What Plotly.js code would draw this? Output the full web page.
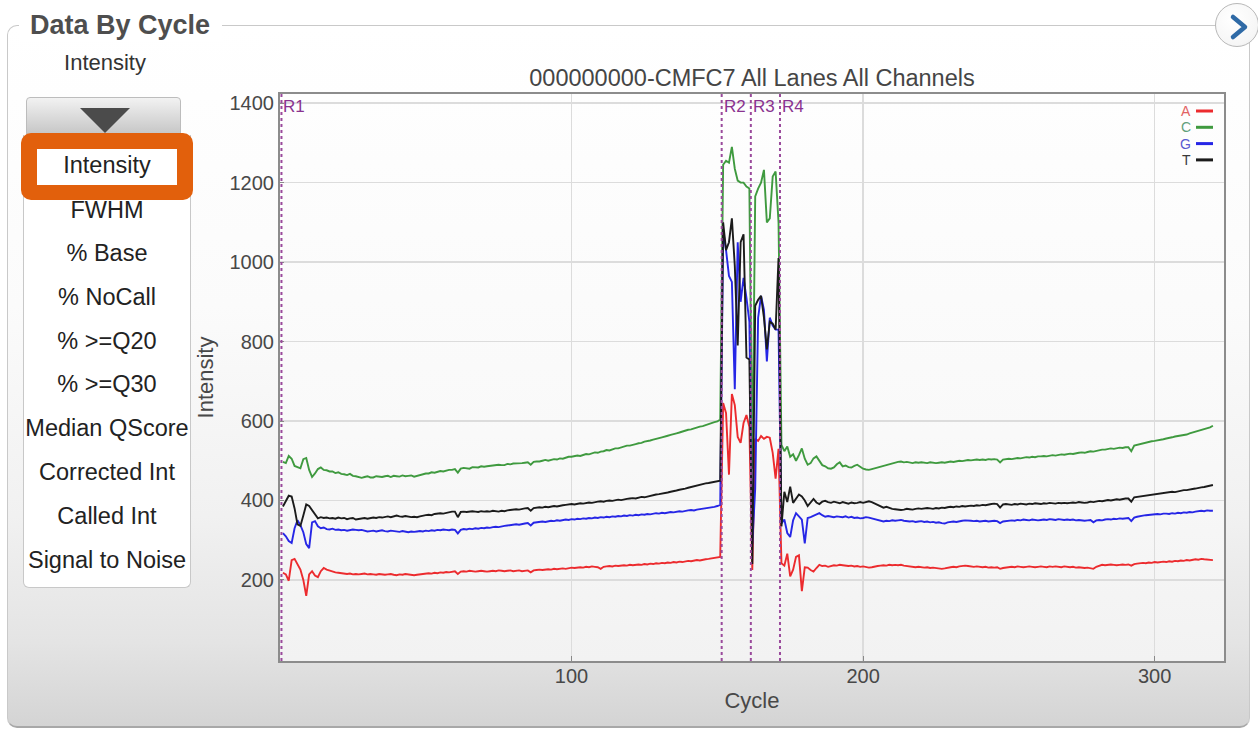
<!DOCTYPE html>
<html>
<head>
<meta charset="utf-8">
<script src="https://cdn.plot.ly/plotly-3.0.1.min.js"></script>
<style>
html,body{margin:0;padding:0;width:1258px;height:730px;overflow:hidden;background:#ffffff;font-family:"Liberation Sans",Arial,sans-serif;}
#panel{position:absolute;left:7px;top:25px;width:1241px;height:700px;border:1.5px solid #c9c9c9;border-bottom:2px solid #a8a8a8;border-radius:10px;
 background:linear-gradient(to bottom,#ffffff 0%,#fbfbfb 40%,#f1f1f1 70%,#e4e4e4 88%,#d4d4d4 100%);}
#ptitle{position:absolute;left:11px;top:-18px;padding:0 12px 0 11px;background:#ffffff;font-weight:bold;font-size:27px;line-height:34px;color:#4e4e4e;}
#plotbg{position:absolute;left:280px;top:94px;width:944px;height:567px;background:linear-gradient(to bottom,#fefefe 0%,#f9f9f9 60%,#f2f2f2 100%);}
#chart{position:absolute;left:0;top:0;width:1258px;height:730px;}
.ui{position:absolute;}
#lbl{left:25px;width:160px;top:50px;text-align:center;font-size:22px;line-height:26px;color:#333;}
#btn{left:26px;top:97px;width:155px;height:38px;background:linear-gradient(to bottom,#f2f2f2,#c6c6c6);border:1px solid #bcbcbc;border-radius:4px 4px 0 0;box-sizing:border-box;}
#tri{left:80px;top:108px;width:0;height:0;border-left:25px solid transparent;border-right:25px solid transparent;border-top:25px solid #4b4b4b;}
#menu{left:23px;top:135px;width:168px;height:453px;background:#ffffff;border:1px solid #c8c8c8;border-top:none;border-radius:0 0 6px 6px;box-sizing:border-box;}
.item{position:absolute;left:23px;width:168px;text-align:center;font-size:23.5px;line-height:26px;color:#222;}
#orange{left:21px;top:133px;width:172px;height:67px;background:#e2600c;border-radius:10px;}
#owhite{left:37px;top:149px;width:140px;height:36px;background:#ffffff;}
#circle{left:1215px;top:3px;width:44px;height:44px;border-radius:50%;border:1.5px solid #b8b8b8;box-sizing:border-box;background:radial-gradient(circle at 40% 35%,#ffffff 0%,#f6f6f6 70%,#e8e8e8 100%);}
#chev{left:1215px;top:3px;}
</style>
</head>
<body>
<div id="panel"><div id="ptitle">Data By Cycle</div></div>
<div id="plotbg"></div>
<div id="chart"></div>
<div class="ui" id="lbl">Intensity</div>
<div class="ui" id="btn"></div>
<div class="ui" id="tri"></div>
<div class="ui" id="menu"></div>
<div id="items"></div>
<div class="ui" id="orange"></div>
<div class="ui" id="owhite"></div>
<div class="item" style="top:152px;">Intensity</div>
<div class="ui" id="circle"></div>
<svg class="ui" id="chev" width="44" height="44"><polyline points="18,14 30,24 18,34" fill="none" stroke="#2f6aa6" stroke-width="4.5" stroke-linecap="round" stroke-linejoin="round"/></svg>
<script>
// ---- menu entries ----
const menuItems = ["Intensity","FWHM","% Base","% NoCall","% >=Q20","% >=Q30","Median QScore","Corrected Int","Called Int","Signal to Noise"];

// ---- read boundaries ----
const readStarts = [1, 152, 162, 172];
const readLabels = ["R1", "R2", "R3", "R4"];

// ---- channel names ----
const channels = ["A", "C", "G", "T"];

// ---- intensity per cycle (cycles 1..320) ----
const intensityA = [
 218,214,198,250,253,241,226,200,160,214,
 222,211,207,222,230,226,223,221,219,218,
 217,216,215,216,214,215,214,215,216,214,
 215,214,213,215,214,213,214,215,213,212,
 214,213,215,214,213,212,213,214,215,216,
 217,216,218,217,219,218,220,219,221,222,
 215,221,222,221,223,222,221,222,223,222,
 221,222,223,222,224,223,222,223,224,222,
 223,224,222,223,224,219,224,225,226,225,
 226,227,226,228,227,228,229,228,230,231,
 230,231,232,231,233,232,234,233,232,228,
 233,234,235,234,236,235,236,237,236,238,
 237,238,239,238,240,239,241,240,242,241,
 243,242,244,243,245,244,246,245,247,248,
 247,249,250,249,251,252,253,254,255,256,258,
 645,620,465,668,640,560,545,595,615,585,
 225,555,550,562,555,560,558,520,455,530,
 242,236,266,209,226,258,262,172,232,
 231,225,221,230,238,235,236,233,235,237,
 236,238,237,236,235,236,234,235,233,234,
 233,231,232,234,235,236,237,236,238,237,
 238,237,238,236,235,234,233,232,233,232,
 231,232,230,231,230,229,228,229,231,232,
 233,232,234,235,236,235,234,233,234,233,
 232,233,231,232,231,232,228,230,231,232,
 233,232,234,233,232,233,234,233,232,233,
 234,233,232,234,233,234,233,232,234,233,
 232,233,231,232,231,230,231,230,228,233,
 236,238,237,238,239,238,237,238,239,238,
 239,236,240,241,242,243,242,244,243,245,
 244,245,246,245,247,246,248,247,249,248,
 250,249,251,252,251,253,252,251,250,250
];
const intensityC = [
 497,494,512,505,487,483,481,504,507,477,
 459,468,479,483,477,476,473,473,469,471,
 467,466,464,467,462,461,459,457,459,461,
 458,458,461,460,459,461,462,459,462,461,
 460,463,461,462,463,460,462,465,466,468,
 468,471,470,472,474,473,475,477,477,479,
 470,480,482,481,480,484,483,483,486,485,
 486,487,487,488,490,489,489,492,491,493,
 493,494,494,495,496,490,497,498,498,500,
 502,500,502,504,503,506,505,507,510,510,
 511,513,512,515,517,516,519,521,520,523,
 524,527,526,529,531,531,534,535,538,538,
 541,542,544,545,548,549,551,553,556,557,
 559,562,563,565,568,569,571,574,575,578,
 579,582,583,586,587,590,592,594,597,599,604,
 1245,1255,1250,1290,1235,1205,1200,1200,1190,1185,
 480,1165,1185,1200,1232,1100,1110,1215,1228,1100,
 540,524,536,510,516,500,514,531,505,
 490,494,506,511,499,489,486,481,480,483,
 491,496,486,488,484,483,487,490,485,480,
 478,477,479,481,484,486,488,489,492,493,
 495,497,498,496,497,495,494,496,495,496,
 495,494,496,495,494,495,496,495,497,498,
 497,499,500,499,501,502,501,502,503,502,
 503,502,504,503,504,503,496,503,504,505,
 504,506,507,506,508,509,508,510,509,511,
 511,512,511,513,514,513,515,516,515,517,
 518,517,519,520,521,520,522,524,523,525,
 527,528,528,530,531,530,532,533,532,534,
 534,524,538,540,542,543,545,547,549,550,
 551,553,554,556,557,559,561,562,563,565,
 566,569,571,573,576,578,579,581,584,588
];
const intensityG = [
 318,310,298,293,330,350,338,320,290,280,
 345,348,335,330,332,328,327,329,326,327,
 325,326,324,325,327,326,325,326,324,322,
 323,324,322,323,325,323,322,324,323,322,
 321,323,322,320,322,321,322,323,322,324,
 323,325,324,326,325,327,326,325,327,326,
 317,326,328,327,329,328,330,329,331,330,
 332,331,333,334,333,335,336,337,338,339,
 340,339,341,342,343,337,344,345,346,347,
 346,348,349,348,350,349,351,352,351,353,
 352,354,353,355,354,356,355,357,356,358,
 357,359,358,360,359,361,360,362,361,363,
 362,364,363,365,364,366,365,367,368,367,
 369,368,370,371,370,372,373,372,374,375,
 376,375,377,378,379,380,381,382,384,386,389,
 1080,1030,965,950,680,1050,900,960,910,850,
 290,430,860,915,880,750,860,840,830,830,
 342,352,318,308,350,368,360,352,292,
 356,358,361,365,368,363,359,361,360,358,
 360,359,358,360,357,359,356,357,355,356,
 358,357,355,352,350,349,347,349,348,350,
 349,350,351,349,348,347,348,346,347,348,
 346,347,345,346,344,345,343,342,345,346,
 347,346,348,349,350,350,349,348,349,347,
 348,349,347,348,349,348,343,347,348,349,
 350,349,351,350,352,351,350,352,351,350,
 351,352,351,353,352,351,353,352,351,352,
 351,352,350,351,350,349,350,351,345,350,
 351,350,352,353,352,354,353,355,354,355,
 356,348,357,359,361,362,363,364,364,365,
 366,365,367,367,366,368,367,369,368,370,
 369,371,370,372,373,374,373,375,374,374
];
const intensityT = [
 385,400,412,410,380,340,336,362,390,386,
 376,363,355,358,356,357,355,356,354,357,
 355,356,353,355,356,352,353,355,356,354,
 355,357,356,358,357,359,360,358,361,362,
 360,359,361,360,358,359,358,360,362,363,
 364,363,366,367,368,367,369,370,372,372,
 358,371,372,371,372,373,372,371,373,372,
 373,372,374,373,372,374,373,375,376,377,
 378,377,379,380,381,374,381,382,383,382,
 384,383,385,386,385,387,388,389,390,391,
 390,392,393,392,394,395,394,396,397,398,
 397,399,400,399,401,402,401,403,404,405,
 406,405,407,409,408,410,412,413,415,416,
 417,419,420,422,423,425,427,428,430,432,
 434,436,438,440,441,443,444,446,447,449,450,
 1100,1030,1050,1110,990,790,1050,1070,760,755,
 240,890,905,915,860,780,850,845,830,1010,
 335,422,396,435,394,405,415,410,400,
 386,396,404,395,391,397,399,396,394,397,
 395,393,396,394,392,395,393,394,396,394,
 397,398,396,393,390,387,382,384,381,379,
 378,377,376,377,379,378,377,379,380,379,
 380,381,380,379,381,380,382,381,383,384,
 383,385,384,386,385,386,387,386,388,387,
 389,388,390,391,392,391,382,390,391,390,
 389,391,390,392,391,390,392,391,393,392,
 391,393,392,394,393,392,394,393,394,393,
 394,395,394,396,395,394,395,397,396,398,
 399,398,400,401,400,402,403,402,404,405,
 405,397,408,409,410,411,412,414,415,416,
 417,418,419,420,421,422,421,423,424,426,
 426,428,429,430,432,433,434,436,438,439
];

const yTicks = [200, 400, 600, 800, 1000, 1200, 1400];
const xTicks = [100, 200, 300];

// ---- menu text ----
const itemTops = [197, 240, 284, 328, 371, 415, 459, 503, 547];
const itemsDiv = document.getElementById("items");
menuItems.slice(1).forEach((t, i) => {
  const d = document.createElement("div");
  d.className = "item";
  d.style.top = itemTops[i] + "px";
  d.textContent = t;
  itemsDiv.appendChild(d);
});

// ---- chart ----
const FONT = '"Liberation Sans", Arial, sans-serif';
const lineColors = {A: "#ec2b2e", C: "#3f9a3f", G: "#2626e6", T: "#1b1b1b"};
const legendTextColors = {A: "#e26262", C: "#62a07a", G: "#5a5ad0", T: "#3a3a3a"};
const series = {A: intensityA, C: intensityC, G: intensityG, T: intensityT};

const traces = channels.map(ch => ({
  type: "scatter",
  mode: "lines",
  name: ch,
  x: series[ch].map((_, i) => i + 1),
  y: series[ch],
  line: {color: lineColors[ch], width: 1.9},
  hoverinfo: "skip"
}));

const shapes = [];
const annotations = [];
readStarts.forEach((s, i) => {
  shapes.push({type: "line", xref: "x", yref: "paper", x0: s - 0.5, x1: s - 0.5, y0: 0, y1: 1,
    line: {color: "#9a4a9c", width: 2, dash: "dot"}, layer: "above"});
  annotations.push({xref: "x", yref: "paper", x: s - 0.5, y: 1, xanchor: "left", yanchor: "top",
    xshift: 0, yshift: -1, text: readLabels[i], showarrow: false,
    font: {family: FONT, size: 17, color: "#8a3290"}});
});

// legend (label then short line), placed top-right inside the plot area
channels.forEach((ch, i) => {
  const yp = 1 - (17 + i * 16.3) / 567;
  annotations.push({xref: "paper", yref: "paper", x: (1193 - 280) / 944, y: yp, xanchor: "right", yanchor: "middle",
    text: ch, showarrow: false, font: {family: FONT, size: 14, color: legendTextColors[ch]}});
  shapes.push({type: "line", xref: "paper", yref: "paper", x0: (1196 - 280) / 944, x1: (1213 - 280) / 944, y0: yp, y1: yp,
    line: {color: lineColors[ch], width: 3}});
});

const layout = {
  width: 1258, height: 730,
  margin: {l: 280, r: 34, t: 94, b: 69, pad: 0},
  paper_bgcolor: "rgba(0,0,0,0)",
  plot_bgcolor: "rgba(0,0,0,0)",
  showlegend: false,
  font: {family: FONT, color: "#444"},
  title: {text: "000000000-CMFC7 All Lanes All Channels", font: {family: FONT, size: 23.5, color: "#454545"},
    xref: "paper", x: 0.5, xanchor: "center", yref: "container", y: 1 - 78 / 730, yanchor: "middle"},
  xaxis: {range: [0, 323.8], tickvals: xTicks, ticktext: xTicks.map(String), ticks: "inside", ticklen: 5, tickcolor: "#888",
    ticklabelstandoff: -4,
    tickfont: {family: FONT, size: 20, color: "#484848"}, showgrid: true, gridcolor: "#dcdcdc", gridwidth: 1.5,
    zeroline: false, showline: true, linecolor: "#8c8c8c", linewidth: 2, mirror: true, automargin: false,
    title: {text: "Cycle", font: {family: FONT, size: 22, color: "#484848"}, standoff: 7}},
  yaxis: {range: [-4, 1423], tickvals: yTicks, ticktext: yTicks.map(String), ticks: "inside", ticklen: 4, tickcolor: "#888",
    tickfont: {family: FONT, size: 20, color: "#484848"}, showgrid: true, gridcolor: "#dcdcdc", gridwidth: 1.5,
    zeroline: false, showline: true, linecolor: "#8c8c8c", linewidth: 2, mirror: true, automargin: false,
    title: {text: "Intensity", font: {family: FONT, size: 22, color: "#484848"}, standoff: 10}},
  shapes: shapes,
  annotations: annotations
};

Plotly.newPlot("chart", traces, layout, {displayModeBar: false, staticPlot: true});
</script>
</body>
</html>
